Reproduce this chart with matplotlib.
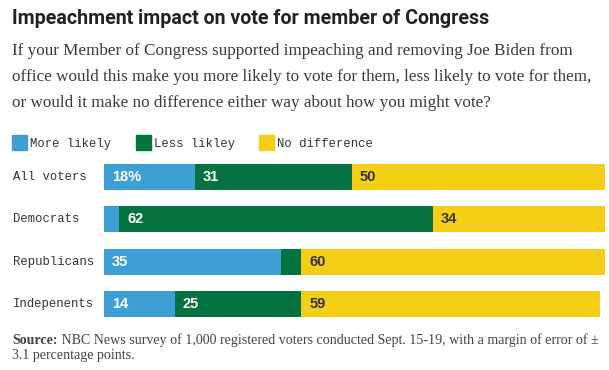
import matplotlib
matplotlib.use("Agg")
import matplotlib.pyplot as plt
from matplotlib.patches import Rectangle

# ---- data ----
categories = ["All voters", "Democrats", "Republicans", "Indepenents"]
series_names = ["More likely", "Less likley", "No difference"]
more_likely = [18, 3, 35, 14]
less_likely = [31, 62, 4, 25]
no_difference = [50, 34, 60, 59]

title = "Impeachment impact on vote for member of Congress"
subtitle_lines = [
    "If your Member of Congress supported impeaching and removing Joe Biden from",
    "office would this make you more likely to vote for them, less likely to vote for them,",
    "or would it make no difference either way about how you might vote?",
]
source_bold = "Source:"
source_rest = " NBC News survey of 1,000 registered voters conducted Sept. 15-19, with a margin of error of \u00b1"
source_line2 = "3.1 percentage points."

colors = ["#3d9fd3", "#04733f", "#f5cf16"]
label_colors = ["white", "white", "#333333"]

W, H = 609, 370
fig = plt.figure(figsize=(W / 100, H / 100), dpi=100)
fig.patch.set_facecolor("white")
renderer = fig.canvas.get_renderer()


def fy(px):
    return 1 - px / H


def fx(px):
    return px / W


def width(t):
    return t.get_window_extent(renderer=renderer).width


def fit(t, target_px):
    fs = t.get_fontsize()
    for _ in range(4):
        fs = fs * target_px / width(t)
        t.set_fontsize(fs)
    return fs


# Title
t = fig.text(fx(12), fy(23.5), title, fontsize=15, fontweight="bold",
             family="Roboto", color="#222222", va="baseline")
fit(t, 481)

# Subtitle
sub_texts = []
for i, line in enumerate(subtitle_lines):
    st = fig.text(fx(12), fy(55 + i * 26), line, fontsize=12.5,
                  family="Liberation Serif", color="#3a3a3a", va="baseline")
    sub_texts.append(st)
fs = fit(sub_texts[1], 578)
for st in sub_texts:
    st.set_fontsize(fs)

# Legend
leg_x = [12, 136, 259]
for name, c, x in zip(series_names, colors, leg_x):
    fig.patches.append(Rectangle((fx(x), fy(150)), 15 / W, 15 / H,
                                 transform=fig.transFigure, color=c, figure=fig))
    fig.text(fx(x + 18), fy(146.5), name, fontsize=8.8, family="Liberation Mono",
             color="#333333", va="baseline")

# Axes for bars
ax_top, ax_bot = 150, 330
ax = fig.add_axes([fx(104), fy(ax_bot), (605 - 104) / W, (ax_bot - ax_top) / H])
ax.set_xlim(0, 99)
c0 = (177 - ax_top) / 42.33
ax.set_ylim((ax_bot - 177) / 42.33, -c0)
ax.axis("off")

ypos = list(range(len(categories)))
data = [more_likely, less_likely, no_difference]
left = [0] * len(categories)
for si, (vals, c) in enumerate(zip(data, colors)):
    ax.barh(ypos, vals, left=left, height=0.61, color=c, linewidth=0)
    for yi, (v, l) in enumerate(zip(vals, left)):
        if v >= 10:
            txt = f"{v}%" if (yi == 0 and si == 0) else f"{v}"
            ax.annotate(txt, (l, yi), xytext=(5.8, 0), textcoords="offset points",
                        ha="left", va="center", fontsize=10.5, fontweight="bold",
                        family="Liberation Sans", color=label_colors[si])
    left = [a + b for a, b in zip(left, vals)]

for yi, cat in enumerate(categories):
    ax.annotate(cat, (0, yi), xytext=(13, 0), xycoords=("figure pixels", "data"),
                textcoords="offset pixels", ha="left", va="center",
                fontsize=8.8, family="Liberation Mono", color="#333333")

# Source
src_fs = 9.5
s1 = fig.text(fx(12), fy(344), source_bold, fontsize=src_fs, fontweight="bold",
              family="Liberation Serif", color="#444444", va="baseline")
s2 = fig.text(fx(12), fy(344), source_rest, fontsize=src_fs,
              family="Liberation Serif", color="#444444", va="baseline")
s3 = fig.text(fx(12), fy(359), source_line2, fontsize=src_fs,
              family="Liberation Serif", color="#444444", va="baseline")
for _ in range(4):
    total = width(s1) + width(s2)
    src_fs = src_fs * 585 / total
    for s in (s1, s2, s3):
        s.set_fontsize(src_fs)
s2.set_x(fx(12 + width(s1)))

fig.savefig("out.png", dpi=100, facecolor="white")
